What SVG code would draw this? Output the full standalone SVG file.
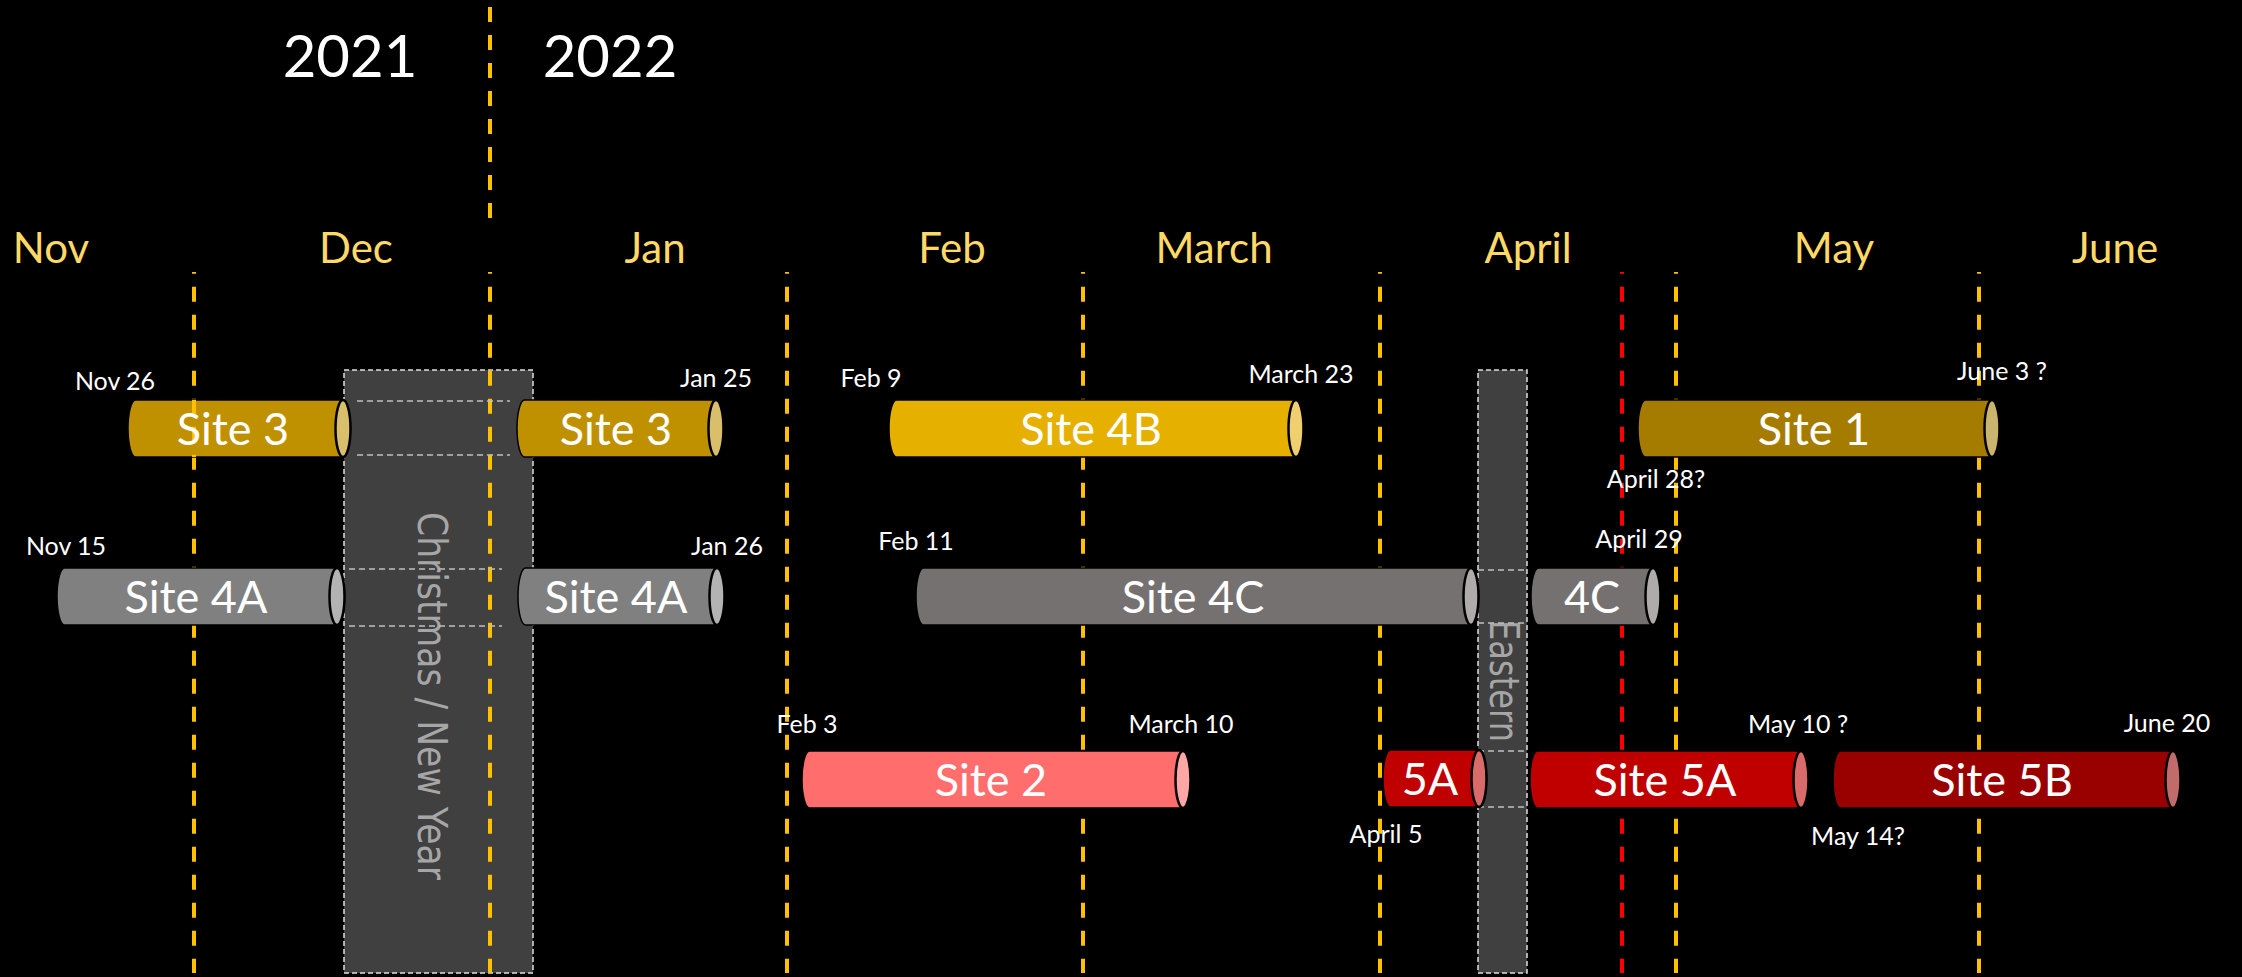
<svg xmlns="http://www.w3.org/2000/svg" width="2242" height="977" viewBox="0 0 2242 977">
<style>
.month{font-family:Lato,"Liberation Sans",sans-serif;font-size:42px;fill:#FFD966;text-anchor:middle}
.year{font-family:Lato,"Liberation Sans",sans-serif;font-size:58px;fill:#FFFFFF;text-anchor:middle}
.lbl{font-family:Lato,"Liberation Sans",sans-serif;font-size:25px;fill:#FFFFFF;text-anchor:middle}
.bt{font-family:Lato,"Liberation Sans",sans-serif;font-size:45px;fill:#FFFFFF;text-anchor:middle}
.hol{fill:#404040;stroke:#E0E0E0;stroke-width:1.5;stroke-dasharray:5 3}
.holt{font-family:"DejaVu Sans",sans-serif;font-size:41px;fill:#A6A6A6;text-anchor:middle}
.ghost{stroke:#BFBFBF;stroke-width:1.5;stroke-dasharray:6 4;fill:none}
.vl{stroke:#FFC000;stroke-width:4;stroke-dasharray:15 13;stroke-dashoffset:13.3;fill:none}
.vr{stroke:#FF0000;stroke-width:4;stroke-dasharray:15 13;stroke-dashoffset:13.3;fill:none}
.bd{stroke:#000;stroke-width:1.5}
.face{stroke:#000;stroke-width:2.5}
</style>
<defs>
<clipPath id="c3"><rect x="128" y="400" width="215" height="57"/></clipPath>
</defs>
<rect x="0" y="0" width="2242" height="977" fill="#000"/>

<g id="holiday-christmas">
<rect class="hol" x="344" y="370" width="189" height="603"/>
<text class="holt" transform="translate(418,696) rotate(90)" textLength="368" lengthAdjust="spacingAndGlyphs">Christmas / New Year</text>
</g>
<g id="holiday-easter">
<rect class="hol" x="1478" y="370" width="49" height="603"/>
<text class="holt" transform="translate(1490,681) rotate(90)" textLength="122" lengthAdjust="spacingAndGlyphs">Eastern</text>
</g>

<g id="connectors">
<line class="vl" x1="490" y1="7" x2="490" y2="219" style="stroke-dashoffset:0"/>
<line class="vl" x1="194" y1="272" x2="194" y2="973"/>
<line class="vl" x1="490" y1="272" x2="490" y2="973"/>
<line class="vl" x1="787" y1="272" x2="787" y2="973"/>
<line class="vl" x1="1083" y1="272" x2="1083" y2="973"/>
<line class="vl" x1="1380" y1="272" x2="1380" y2="973"/>
<line class="vr" x1="1622" y1="272" x2="1622" y2="973"/>
<line class="vl" x1="1676" y1="272" x2="1676" y2="973"/>
<line class="vl" x1="1979" y1="272" x2="1979" y2="973"/>
<line class="ghost" x1="357" y1="401" x2="510" y2="401"/>
<line class="ghost" x1="357" y1="455" x2="510" y2="455"/>
<line class="ghost" x1="349" y1="569" x2="502" y2="569"/>
<line class="ghost" x1="349" y1="626" x2="502" y2="626"/>
<line class="ghost" x1="1478" y1="570" x2="1527" y2="570"/>
<line class="ghost" x1="1478" y1="623" x2="1527" y2="623"/>
<line class="ghost" x1="1478" y1="751" x2="1527" y2="751"/>
<line class="ghost" x1="1478" y1="807" x2="1527" y2="807"/>
</g>

<g id="years">
<text class="year" x="350" y="77">2021</text>
<text class="year" x="610" y="77">2022</text>
</g>
<g id="months">
<text class="month" x="51" y="263">Nov</text>
<text class="month" x="356" y="263">Dec</text>
<text class="month" x="655" y="263">Jan</text>
<text class="month" x="952" y="263">Feb</text>
<text class="month" x="1214" y="263">March</text>
<text class="month" x="1528" y="263">April</text>
<text class="month" x="1834" y="263">May</text>
<text class="month" x="2115" y="263">June</text>
</g>

<g id="site3-a">
<path class="bd" fill="#BF9000" d="M135.5,400 H343 A7.5,28.5 0 0 1 343,457 H135.5 A7.5,28.5 0 0 1 135.5,400 Z"/>
<ellipse class="face" fill="#D9BF6C" cx="343" cy="428.5" rx="7.5" ry="28.5"/>
<line class="vl" x1="194" y1="272" x2="194" y2="973" clip-path="url(#c3)"/>
<text class="bt" x="233" y="444.5">Site 3</text>
<text class="lbl" x="115" y="390">Nov 26</text>
</g>
<g id="site3-b">
<path class="bd" fill="#BF9000" d="M524.5,400 H716 A7.5,28.5 0 0 1 716,457 H524.5 A7.5,28.5 0 0 1 524.5,400 Z"/>
<ellipse class="face" fill="#D9BF6C" cx="716" cy="428.5" rx="7.5" ry="28.5"/>
<text class="bt" x="616" y="444.5">Site 3</text>
<text class="lbl" x="716" y="387">Jan 25</text>
</g>
<g id="site4b">
<path class="bd" fill="#E5B000" d="M896.5,400 H1296 A7.5,28.5 0 0 1 1296,457 H896.5 A7.5,28.5 0 0 1 896.5,400 Z"/>
<ellipse class="face" fill="#F0CF6E" cx="1296" cy="428.5" rx="7.5" ry="28.5"/>
<text class="bt" x="1091" y="444.5">Site 4B</text>
<text class="lbl" x="871" y="387">Feb 9</text>
<text class="lbl" x="1301" y="383">March 23</text>
</g>
<g id="site1">
<path class="bd" fill="#A67C00" d="M1645.5,400 H1992 A7.5,28.5 0 0 1 1992,457 H1645.5 A7.5,28.5 0 0 1 1645.5,400 Z"/>
<ellipse class="face" fill="#CBB46E" cx="1992" cy="428.5" rx="7.5" ry="28.5"/>
<text class="bt" x="1814" y="444.5">Site 1</text>
<text class="lbl" x="2002" y="380">June 3 ?</text>
<text class="lbl" x="1656" y="488">April 28?</text>
</g>

<g id="site4a-a">
<path class="bd" fill="#808080" d="M64.5,568 H337 A7.5,28.5 0 0 1 337,625 H64.5 A7.5,28.5 0 0 1 64.5,568 Z"/>
<ellipse class="face" fill="#B3B3B3" cx="337" cy="596.5" rx="7.5" ry="28.5"/>
<text class="bt" x="196" y="612.5">Site 4A</text>
<text class="lbl" x="66" y="555">Nov 15</text>
</g>
<g id="site4a-b">
<path class="bd" fill="#808080" d="M525.5,568 H717 A7.5,28.5 0 0 1 717,625 H525.5 A7.5,28.5 0 0 1 525.5,568 Z"/>
<ellipse class="face" fill="#B3B3B3" cx="717" cy="596.5" rx="7.5" ry="28.5"/>
<text class="bt" x="616" y="612.5">Site 4A</text>
<text class="lbl" x="727" y="555">Jan 26</text>
</g>
<g id="site4c-a">
<path class="bd" fill="#767171" d="M923.5,568 H1471 A7.5,28.5 0 0 1 1471,625 H923.5 A7.5,28.5 0 0 1 923.5,568 Z"/>
<ellipse class="face" fill="#AFABAB" cx="1471" cy="596.5" rx="7.5" ry="28.5"/>
<text class="bt" x="1193" y="612.5">Site 4C</text>
<text class="lbl" x="916" y="550">Feb 11</text>
</g>
<g id="site4c-b">
<path class="bd" fill="#767171" d="M1538.5,568 H1653 A7.5,28.5 0 0 1 1653,625 H1538.5 A7.5,28.5 0 0 1 1538.5,568 Z"/>
<ellipse class="face" fill="#AFABAB" cx="1653" cy="596.5" rx="7.5" ry="28.5"/>
<text class="bt" x="1592" y="612.5">4C</text>
<text class="lbl" x="1639" y="548">April 29</text>
</g>

<g id="site2">
<path class="bd" fill="#FF6D6D" d="M809.5,751 H1183 A7.5,28.5 0 0 1 1183,808 H809.5 A7.5,28.5 0 0 1 809.5,751 Z"/>
<ellipse class="face" fill="#FFA7A7" cx="1183" cy="779.5" rx="7.5" ry="28.5"/>
<text class="bt" x="991" y="795.5">Site 2</text>
<text class="lbl" x="807" y="733">Feb 3</text>
<text class="lbl" x="1181" y="733">March 10</text>
</g>
<g id="site5a-a">
<path class="bd" fill="#C00000" d="M1390.5,750 H1479 A7.5,28.5 0 0 1 1479,807 H1390.5 A7.5,28.5 0 0 1 1390.5,750 Z"/>
<ellipse class="face" fill="#D96B6B" cx="1479" cy="778.5" rx="7.5" ry="28.5"/>
<text class="bt" x="1430" y="794.5">5A</text>
<text class="lbl" x="1386" y="843">April 5</text>
</g>
<g id="site5a-b">
<path class="bd" fill="#C00000" d="M1537.5,751 H1801 A7.5,28.5 0 0 1 1801,808 H1537.5 A7.5,28.5 0 0 1 1537.5,751 Z"/>
<ellipse class="face" fill="#D96B6B" cx="1801" cy="779.5" rx="7.5" ry="28.5"/>
<text class="bt" x="1665" y="795.5">Site 5A</text>
<text class="lbl" x="1798" y="733">May 10 ?</text>
</g>
<g id="site5b">
<path class="bd" fill="#990000" d="M1840.5,751 H2173 A7.5,28.5 0 0 1 2173,808 H1840.5 A7.5,28.5 0 0 1 1840.5,751 Z"/>
<ellipse class="face" fill="#C26B6B" cx="2173" cy="779.5" rx="7.5" ry="28.5"/>
<text class="bt" x="2002" y="795.5">Site 5B</text>
<text class="lbl" x="1858" y="845">May 14?</text>
<text class="lbl" x="2167" y="732">June 20</text>
</g>
</svg>
